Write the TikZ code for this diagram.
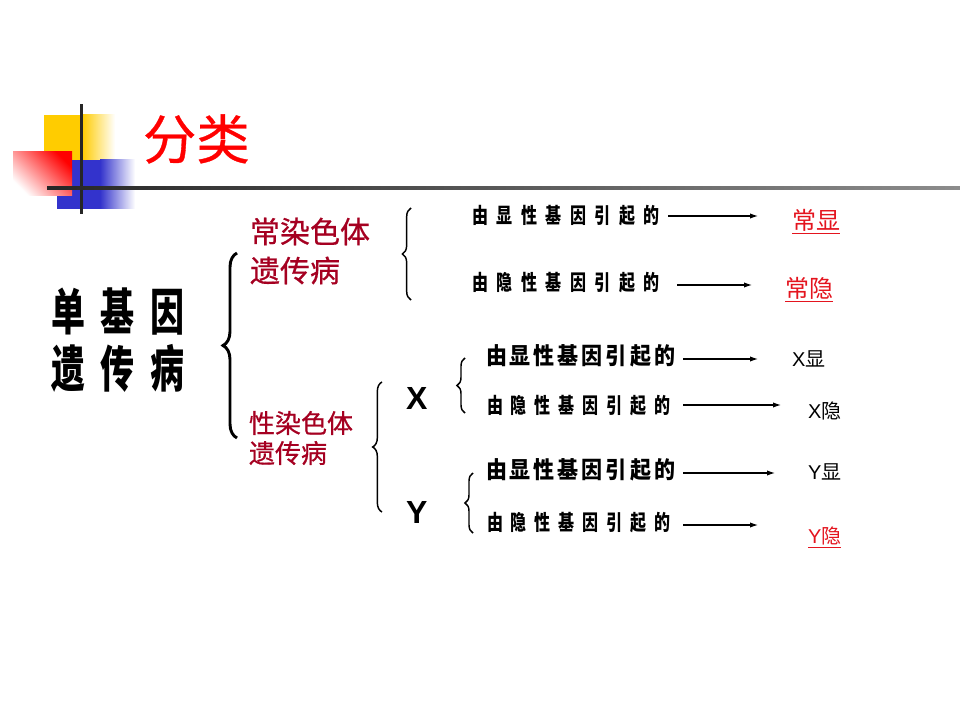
\documentclass[tikz,border=0pt]{standalone}
\usepackage{fontspec}
\setmainfont{Liberation Sans}
\newfontfamily\cjk{Noto Sans CJK SC}
\newfontfamily\cjkM[FakeBold=0.6]{Noto Sans CJK SC}
\newfontfamily\cjkA[FakeStretch=0.68]{Noto Sans CJK SC}
\newfontfamily\cjkB[FakeStretch=0.75]{Noto Sans CJK SC}
\newfontfamily\cjkC[FakeStretch=0.9]{Noto Sans CJK SC}
\usetikzlibrary{decorations.pathreplacing,arrows.meta}
\definecolor{titlered}{RGB}{255,0,0}
\definecolor{darkred}{RGB}{165,0,33}
\definecolor{linkred}{RGB}{228,20,30}
\definecolor{decoyellow}{RGB}{255,204,0}
\definecolor{decoblue}{RGB}{51,51,204}
\newcommand\gsa{\hspace{6.4pt}}
\newcommand\gsb{\hspace{5.9pt}}
\newcommand\gsc{\hspace{2.25pt}}
\newcommand\gsm{\hspace{12pt}}
\begin{document}
\begin{tikzpicture}[x=0.75pt,y=-0.75pt,
  txt/.style={anchor=west,inner sep=0pt,outer sep=0pt},
  spacedrow/.style={txt,font=\cjkB\bfseries\fontsize{16}{18}\selectfont},
  plainrow/.style={txt,font=\cjkC\bfseries\fontsize{17.5}{19}\selectfont},
  result/.style={txt,font=\fontsize{15}{17}\selectfont},
  redresult/.style={txt,text=linkred,font=\cjk\fontsize{18}{20}\selectfont},
  arr/.style={line width=0.8pt,-{Latex[length=6pt,width=4pt]}},
  brc/.style={decorate,decoration={brace,amplitude=#1}},
  thinbrc/.style={brc=#1,line width=1.1pt}
]
\fill[white] (0,0) rectangle (960,720);
\useasboundingbox (0,0) rectangle (960,720);
% decoration
\fill[decoyellow] (44,115) rectangle (82,160);
\shade[left color=decoyellow,right color=white] (82,115) rectangle (115,160);
\fill[decoblue] (57,160) rectangle (100,209);
\shade[left color=decoblue,right color=white] (100,160) rectangle (135,209);
\shade[top color=red, bottom color=white, shading angle=-45] (13,152) rectangle (72,196);
\fill[black!85] (79.5,104) rectangle (82.5,214);
\shade[left color=black!85,right color=black!45] (47,186.5) rectangle (960,189.5);
% title
\node[txt,text=titlered,font=\cjkM\fontsize{40}{44}\selectfont] (title) at (143,139) {分类};
% main
\node[txt,align=left,font=\cjkA\bfseries\fontsize{37.5}{42.75}\selectfont] (main) at (51,340)
  {单\gsm 基\gsm 因\\遗\gsm 传\gsm 病};
\node[txt,align=left,text=darkred,font=\cjkM\fontsize{22.5}{29.25}\selectfont] (auto) at (250,251)
  {常染色体\\遗传病};
\node[txt,align=left,text=darkred,font=\cjkM\fontsize{19.5}{22.5}\selectfont] (sex) at (249,438)
  {性染色体\\遗传病};
\node[txt,font=\bfseries\fontsize{24}{26}\selectfont] (X) at (406,398) {X};
\node[txt,font=\bfseries\fontsize{24}{26}\selectfont] (Y) at (406,512) {Y};
% rows
\node[spacedrow] (r1) at (472,216) {由\gsa 显\gsa 性\gsa 基\gsa 因\gsa 引\gsa 起\gsa 的};
\node[spacedrow] (r2) at (472,283) {由\gsa 隐\gsa 性\gsa 基\gsa 因\gsa 引\gsa 起\gsa 的};
\node[plainrow] (r3) at (486,356) {由\gsc 显\gsc 性\gsc 基\gsc 因\gsc 引\gsc 起\gsc 的};
\node[spacedrow] (r4) at (487,406) {由\gsb 隐\gsb 性\gsb 基\gsb 因\gsb 引\gsb 起\gsb 的};
\node[plainrow] (r5) at (486,470) {由\gsc 显\gsc 性\gsc 基\gsc 因\gsc 引\gsc 起\gsc 的};
\node[spacedrow] (r6) at (487,523) {由\gsb 隐\gsb 性\gsb 基\gsb 因\gsb 引\gsb 起\gsb 的};
% results
\node[redresult] (l1) at (792,220) {常显};
\node[redresult] (l2) at (785,288) {常隐};
\node[result] (l3) at (792,359) {X{\cjk 显}};
\node[result] (l4) at (808,411) {X{\cjk 隐}};
\node[result] (l5) at (808,472) {Y{\cjk 显}};
\node[result,text=linkred] (l6) at (808,536) {Y{\cjk 隐}};
\draw[linkred,line width=0.8pt] ([yshift=-2pt]l1.south west) -- ([yshift=-2pt]l1.south east);
\draw[linkred,line width=0.8pt] ([yshift=-2pt]l2.south west) -- ([yshift=-2pt]l2.south east);
\draw[linkred,line width=0.8pt] ([yshift=-2pt]l6.south west) -- ([yshift=-2pt]l6.south east);
% arrows
\coordinate (a1s) at (668,216); \coordinate (a1e) at (758,216);
\coordinate (a2s) at (677,285); \coordinate (a2e) at (752,285);
\coordinate (a3s) at (683,359); \coordinate (a3e) at (758,359);
\coordinate (a4s) at (683,405); \coordinate (a4e) at (781,405);
\coordinate (a5s) at (683,473); \coordinate (a5e) at (775,473);
\coordinate (a6s) at (683,525); \coordinate (a6e) at (758,525);
\draw[arr] (a1s) -- (a1e);
\draw[arr] (a2s) -- (a2e);
\draw[arr] (a3s) -- (a3e);
\draw[arr] (a4s) -- (a4e);
\draw[arr] (a5s) -- (a5e);
\draw[arr] (a6s) -- (a6e);
% braces
\coordinate (bb) at (237,438); \coordinate (bt) at (237,253);
\coordinate (ab) at (411,300); \coordinate (at) at (411,208);
\coordinate (sb) at (382,512); \coordinate (st) at (382,382);
\coordinate (xb) at (465,413); \coordinate (xt) at (465,358);
\coordinate (yb) at (473,533); \coordinate (yt) at (473,473);
\draw[brc=10.5pt,line width=2.2pt] (bb) -- (bt);
\draw[thinbrc=6.5pt] (ab) -- (at);
\draw[thinbrc=7pt] (sb) -- (st);
\draw[thinbrc=6pt] (xb) -- (xt);
\draw[thinbrc=6pt] (yb) -- (yt);
\end{tikzpicture}
\end{document}
